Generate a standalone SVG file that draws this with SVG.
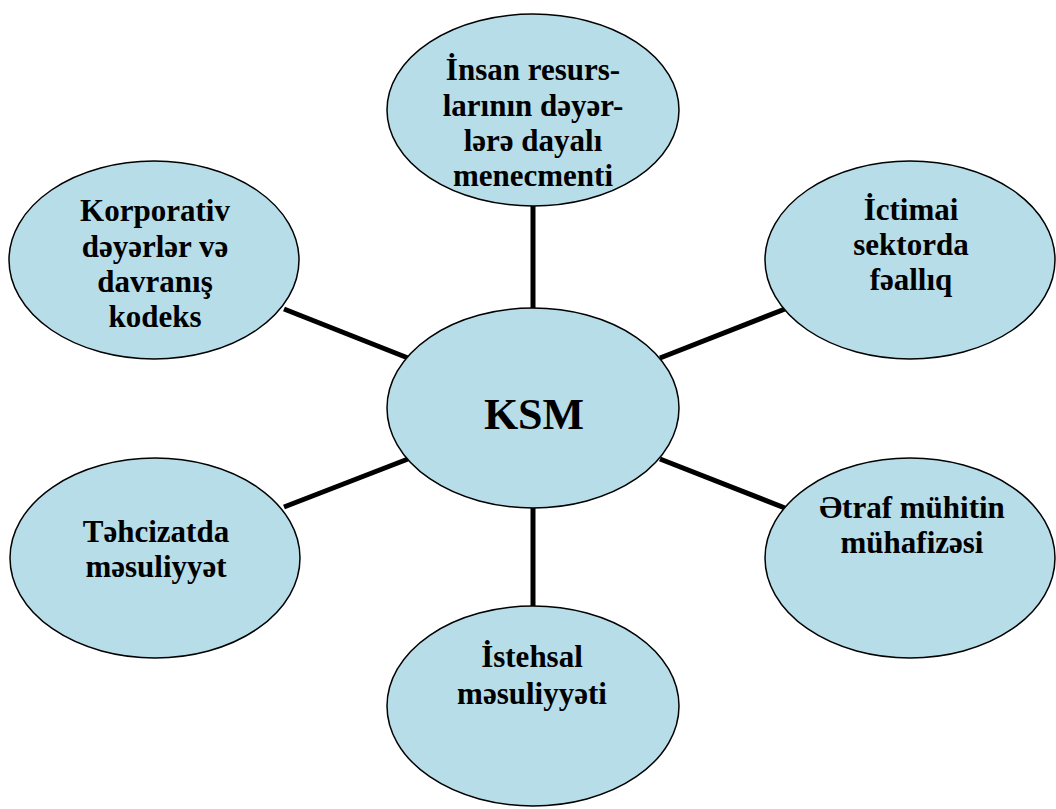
<svg xmlns="http://www.w3.org/2000/svg" width="1056" height="809" viewBox="0 0 1056 809">
<style>
.n{fill:#B7DDE8;stroke:#000;stroke-width:1.5}
.t{font-family:"Liberation Serif","Times New Roman",serif;font-weight:bold;font-size:31px;fill:#000;text-anchor:middle}
.k{font-size:44px}
.c{stroke:#000;stroke-width:5;fill:none}
</style>
<rect width="1056" height="809" fill="#fff"/>
<g id="connectors">
<line class="c" x1="533" y1="205" x2="533" y2="309"/>
<line class="c" x1="533" y1="507" x2="533" y2="606"/>
<line class="c" x1="284" y1="309" x2="408" y2="358"/>
<line class="c" x1="660" y1="358" x2="785" y2="309"/>
<line class="c" x1="284" y1="507" x2="408" y2="459"/>
<line class="c" x1="660" y1="459" x2="785" y2="508"/>
</g>
<g id="ksm">
<ellipse class="n" cx="533" cy="408" rx="146" ry="100"/>
<text class="t k" x="534" y="429">KSM</text>
</g>
<g id="insan">
<ellipse class="n" cx="533" cy="110" rx="146" ry="96"/>
<text class="t" x="533" y="80">İnsan resurs-</text>
<text class="t" x="533" y="116">larının dəyər-</text>
<text class="t" x="533" y="151">lərə dayalı</text>
<text class="t" x="533" y="186">menecmenti</text>
</g>
<g id="korporativ">
<ellipse class="n" cx="154" cy="260" rx="145" ry="99"/>
<text class="t" x="155" y="221">Korporativ</text>
<text class="t" x="155" y="257">dəyərlər və</text>
<text class="t" x="155" y="292">davranış</text>
<text class="t" x="155" y="327">kodeks</text>
</g>
<g id="ictimai">
<ellipse class="n" cx="910" cy="260" rx="145" ry="99"/>
<text class="t" x="911" y="220">İctimai</text>
<text class="t" x="911" y="255">sektorda</text>
<text class="t" x="911" y="290">fəallıq</text>
</g>
<g id="tehcizat">
<ellipse class="n" cx="155" cy="558" rx="145" ry="100"/>
<text class="t" x="156" y="542">Təhcizatda</text>
<text class="t" x="156" y="577">məsuliyyət</text>
</g>
<g id="etraf">
<ellipse class="n" cx="910" cy="558" rx="145" ry="100"/>
<text class="t" x="912" y="518">Ətraf mühitin</text>
<text class="t" x="912" y="553">mühafizəsi</text>
</g>
<g id="istehsal">
<ellipse class="n" cx="533" cy="706" rx="146" ry="100"/>
<text class="t" x="532" y="667">İstehsal</text>
<text class="t" x="532" y="704">məsuliyyəti</text>
</g>
</svg>
